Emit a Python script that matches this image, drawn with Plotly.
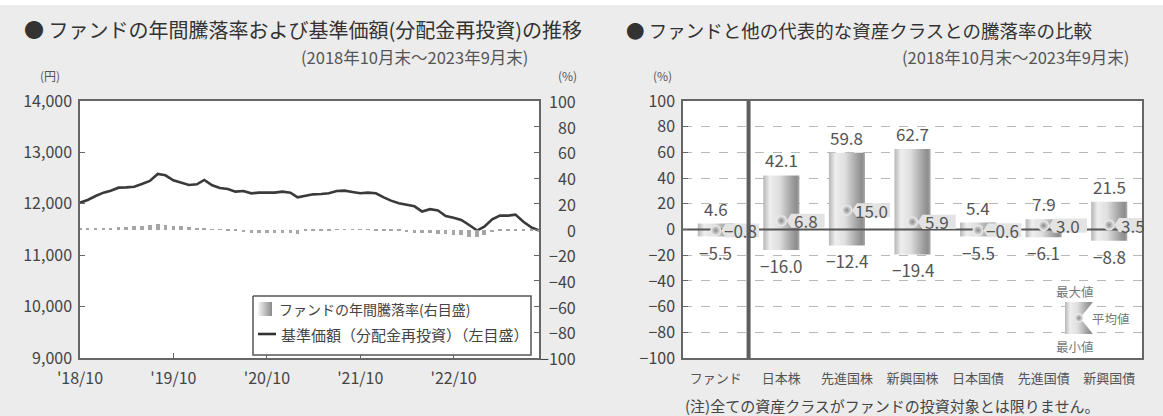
import plotly.graph_objects as go
import pandas as pd

W, H = 1163, 416
FONT = "Noto Sans CJK JP"

# ---------------- data: fund NAV and rolling 1-year return ----------------
months = pd.date_range("2018-10-31", periods=60, freq="ME").strftime("%Y-%m-%d").tolist()

nav = [12022, 12074, 12152, 12217, 12256, 12314, 12320, 12333, 12385, 12444,
       12580, 12554, 12457, 12411, 12366, 12379, 12463, 12359, 12307, 12288,
       12236, 12249, 12204, 12217, 12210, 12217, 12236, 12217, 12126, 12152,
       12184, 12191, 12204, 12249, 12256, 12230, 12204, 12217, 12204, 12126,
       12061, 12009, 11977, 11951, 11850, 11895, 11870, 11763, 11730, 11685,
       11588, 11480, 11555, 11698, 11769, 11769, 11789, 11652, 11542, 11480]

annual_return = [0.5, 0.8, 1.0, 1.2, 1.5, 1.8, 2.0, 2.5, 3.0, 3.5,
                 4.5, 3.5, 3.0, 2.5, 2.0, 1.5, 1.0, 0.3, -0.3, -1.0,
                 -1.5, -2.0, -3.0, -2.5, -2.5, -2.5, -2.5, -2.5, -3.5, -1.5,
                 -1.0, -0.8, -0.5, 0.3, 0.2, 0.2, -0.2, -0.3, -0.5, -0.8,
                 -1.0, -1.5, -2.0, -2.5, -3.0, -3.0, -3.5, -3.5, -4.0, -4.5,
                 -5.5, -6.0, -4.5, -2.0, -1.5, -1.0, -0.5, -0.8, -1.5, -2.0]

year_ticks = ["'18/10", "'19/10", "'20/10", "'21/10", "'22/10"]
nav_ticks = [9000, 10000, 11000, 12000, 13000, 14000]
pct_ticks = list(range(-100, 101, 20))

# ---------------- data: asset class comparison ----------------
asset_classes = ["ファンド", "日本株", "先進国株", "新興国株", "日本国債", "先進国債", "新興国債"]
max_ret = [4.6, 42.1, 59.8, 62.7, 5.4, 7.9, 21.5]
avg_ret = [-0.8, 6.8, 15.0, 5.9, -0.6, 3.0, 3.5]
min_ret = [-5.5, -16.0, -12.4, -19.4, -5.5, -6.1, -8.8]


def fmt(v):
    s = f"{abs(v):.1f}"
    return ("−" + s) if v < 0 else s


def px(x):
    return x / W


def py(y):
    return 1 - y / H


def label(x, y, text, size, color, xref="paper", yref="paper", xanchor="center",
          yanchor="middle", **kw):
    return dict(x=x, y=y, xref=xref, yref=yref, text=text, showarrow=False,
                xanchor=xanchor, yanchor=yanchor,
                font=dict(size=size, color=color), **kw)


fig = go.Figure()

# ---------------- left chart ----------------
fig.add_trace(go.Scatter(
    x=months, y=nav, mode="lines", xaxis="x", yaxis="y",
    line=dict(color="#3a3a3a", width=2.6), hoverinfo="skip"))
fig.add_trace(go.Bar(
    x=months, y=annual_return, xaxis="x", yaxis="y2",
    marker=dict(color="#a5a5a5", line=dict(width=0)),
    width=14 * 86400000, hoverinfo="skip"))

# ---------------- right chart ----------------
bw = 0.55
bar_scale = [[0.0, "#b6b6b6"], [0.18, "#eeeeee"], [0.45, "#dedede"],
             [0.78, "#a2a2a2"], [0.92, "#8d8d8d"], [1.0, "#a8a8a8"]]
for i, (mx, mn) in enumerate(zip(max_ret, min_ret)):
    fig.add_trace(go.Scatter(
        x=[i - bw / 2, i + bw / 2, i + bw / 2, i - bw / 2, i - bw / 2],
        y=[mn, mn, mx, mx, mn], mode="lines", fill="toself",
        fillgradient=dict(type="horizontal", colorscale=bar_scale),
        line=dict(width=0), xaxis="x3", yaxis="y3", hoverinfo="skip"))

# zero line
fig.add_trace(go.Scatter(x=[-0.5, 6.5], y=[0, 0], mode="lines",
                         line=dict(color="#555555", width=2),
                         xaxis="x3", yaxis="y3", hoverinfo="skip"))

# average-value tags
for i, a in enumerate(avg_ret):
    x0, x1, x2 = i + 0.08, i + 0.15, i + 0.66
    fig.add_trace(go.Scatter(
        x=[x0, x1, x2, x2, x1, x0], y=[a, a + 5.5, a + 5.5, a - 5.5, a - 5.5, a],
        mode="lines", fill="toself", fillcolor="#e3e3e3",
        line=dict(width=0), xaxis="x3", yaxis="y3", hoverinfo="skip"))

# divider between the fund and the asset classes
fig.add_trace(go.Scatter(x=[0.5, 0.5], y=[-100, 100], mode="lines",
                         line=dict(color="#5e5e5e", width=4),
                         xaxis="x3", yaxis="y3", hoverinfo="skip"))

# average markers
fig.add_trace(go.Scatter(
    x=list(range(len(asset_classes))), y=avg_ret, mode="markers",
    marker=dict(size=11, color="#f4f4f4",
                gradient=dict(type="radial", color="#8a8a8a"),
                line=dict(width=0)),
    xaxis="x3", yaxis="y3", hoverinfo="skip"))

annotations = []
for i, (mx, a, mn) in enumerate(zip(max_ret, avg_ret, min_ret)):
    annotations.append(label(i, mx, fmt(mx), 17, "#555", "x3", "y3",
                             yanchor="bottom", yshift=1))
    annotations.append(label(i, mn, fmt(mn), 17, "#555", "x3", "y3",
                             yanchor="top", yshift=-1))
    annotations.append(label(i + 0.37, a, fmt(a), 17, "#555", "x3", "y3"))

# ---------------- overlay (pixel) layer: legends ----------------
# left legend box
fig.add_trace(go.Scatter(x=[253, 531, 531, 253, 253], y=[296, 296, 355, 355, 296],
                         mode="lines", fill="toself", fillcolor="white",
                         line=dict(color="#555", width=1.5),
                         xaxis="x4", yaxis="y4", hoverinfo="skip"))
fig.add_trace(go.Scatter(x=[258, 272, 272, 258, 258], y=[302, 302, 316, 316, 302],
                         mode="lines", fill="toself",
                         fillgradient=dict(type="horizontal",
                                           colorscale=[[0, "#f6f6f6"], [1, "#8a8a8a"]]),
                         line=dict(width=0), xaxis="x4", yaxis="y4", hoverinfo="skip"))
fig.add_trace(go.Scatter(x=[258, 276], y=[334, 334], mode="lines",
                         line=dict(color="#333", width=2.6),
                         xaxis="x4", yaxis="y4", hoverinfo="skip"))
annotations += [
    label(277, 309, "ファンドの年間騰落率(右目盛)", 14, "#444", "x4", "y4", xanchor="left"),
    label(279, 334, "基準価額（分配金再投資）（左目盛）", 15, "#444", "x4", "y4",
          xanchor="left"),
]

# right legend icon
fig.add_trace(go.Scatter(x=[1065, 1093, 1080, 1093, 1065, 1065],
                         y=[302, 302, 318, 334, 334, 302],
                         mode="lines", fill="toself", fillgradient=dict(
                             type="horizontal", colorscale=bar_scale),
                         line=dict(width=0), xaxis="x4", yaxis="y4", hoverinfo="skip"))
fig.add_trace(go.Scatter(x=[1079], y=[318], mode="markers",
                         marker=dict(size=9, color="#f4f4f4",
                                     gradient=dict(type="radial", color="#8a8a8a")),
                         xaxis="x4", yaxis="y4", hoverinfo="skip"))
annotations += [
    label(1075, 291, "最大値", 12.5, "#777", "x4", "y4"),
    label(1111, 318, "平均値", 12.5, "#777", "x4", "y4"),
    label(1075, 346, "最小値", 12.5, "#777", "x4", "y4"),
]

# right-hand % labels of the left chart
for v in pct_ticks:
    annotations.append(label(px(578), v, ("−" + str(-v)) if v < 0 else str(v),
                             16, "#444", "paper", "y2", xanchor="right"))

# titles and notes
annotations += [
    label(px(22), py(30), "● ファンドの年間騰落率および基準価額(分配金再投資)の推移",
          20, "#333", xanchor="left"),
    label(px(530), py(57), "(2018年10月末～2023年9月末)", 16.5, "#555", xanchor="right"),
    label(px(50), py(75), "(円)", 12, "#555"),
    label(px(567), py(75), "(%)", 12, "#555"),
    label(px(624), py(30), "● ファンドと他の代表的な資産クラスとの騰落率の比較",
          18.5, "#333", xanchor="left"),
    label(px(1131), py(57), "(2018年10月末～2023年9月末)", 16.5, "#555", xanchor="right"),
    label(px(662), py(75), "(%)", 12, "#555"),
    label(px(683), py(405), "(注)全ての資産クラスがファンドの投資対象とは限りません。",
          15, "#444", xanchor="left"),
]

shapes = [
    dict(type="rect", xref="paper", yref="paper", x0=px(80), x1=px(539),
         y0=py(358), y1=py(101), fillcolor="white", line=dict(width=0), layer="below"),
    dict(type="rect", xref="paper", yref="paper", x0=px(683), x1=px(1142),
         y0=py(358), y1=py(101), fillcolor="white", line=dict(width=0), layer="below"),
    dict(type="rect", xref="paper", yref="paper", x0=0, x1=1, y0=py(5), y1=1,
         fillcolor="white", line=dict(width=0), layer="below"),
]

ydom = [py(358), py(101)]
axis_common = dict(showline=True, linecolor="#666", linewidth=1.5, mirror=True,
                   zeroline=False, tickcolor="#666", ticklen=5, ticks="inside",
                   automargin=False)

fig.update_layout(
    width=W, height=H, autosize=False, margin=dict(l=0, r=0, t=0, b=0, pad=0),
    paper_bgcolor="#ececec", plot_bgcolor="rgba(0,0,0,0)", showlegend=False,
    font=dict(family=FONT, color="#444", size=16),
    bargap=0,
    xaxis=dict(domain=[px(80), px(539)], type="date", anchor="y",
               range=[months[0], months[-1]],
               tickvals=[months[i] for i in (0, 12, 24, 36, 48)],
               ticktext=year_ticks, showgrid=False, ticklabelstandoff=5,
               tickfont=dict(size=16, color="#444"), **axis_common),
    yaxis=dict(domain=ydom, range=[9000, 14000], anchor="x", tickvals=nav_ticks,
               tickformat=",", showgrid=False, ticklabelstandoff=3,
               tickfont=dict(size=16, color="#444"), **axis_common),
    yaxis2=dict(overlaying="y", side="right", anchor="x", range=[-100, 100],
                tickvals=pct_ticks, showticklabels=False, showgrid=False,
                zeroline=False, ticks="inside", ticklen=5, tickcolor="#666",
                showline=False, automargin=False),
    xaxis3=dict(domain=[px(683), px(1142)], anchor="y3", range=[-0.5, 6.5],
                tickvals=list(range(len(asset_classes))), ticktext=asset_classes,
                showgrid=False, showline=True, linecolor="#666", linewidth=1.5,
                mirror=True, zeroline=False, ticks="", ticklabelstandoff=8,
                tickfont=dict(size=13, color="#555"), automargin=False),
    yaxis3=dict(domain=ydom, anchor="x3", range=[-100, 100], tickvals=pct_ticks,
                showgrid=True, gridcolor="#b8b8b8", griddash="dash", gridwidth=1,
                ticklabelstandoff=3, tickfont=dict(size=16, color="#444"),
                **axis_common),
    xaxis4=dict(domain=[0, 1], range=[0, W], anchor="y4", visible=False,
                fixedrange=True, automargin=False),
    yaxis4=dict(domain=[0, 1], range=[H, 0], anchor="x4", visible=False,
                fixedrange=True, automargin=False),
    annotations=annotations,
    shapes=shapes,
)

fig.write_html("out.html")
